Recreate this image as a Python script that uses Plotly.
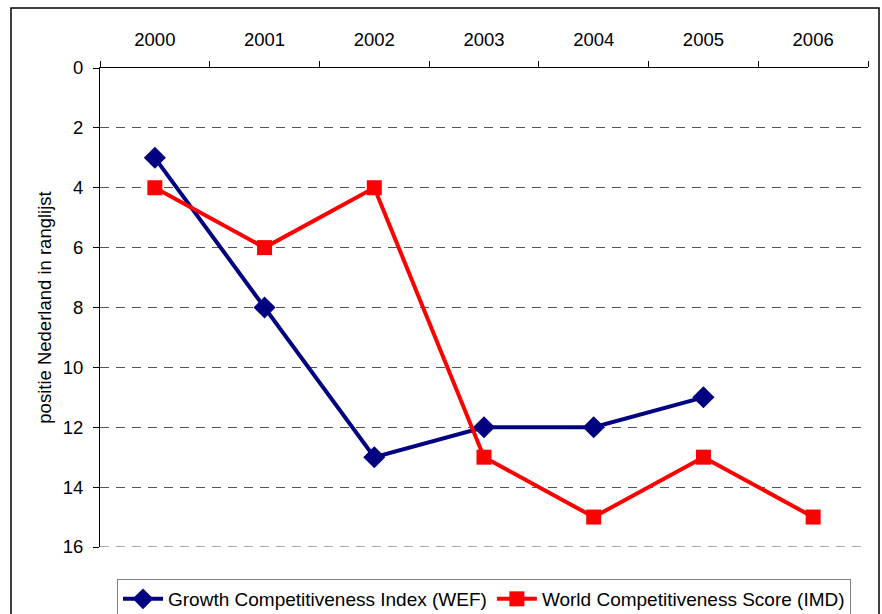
import plotly.graph_objects as go

years = ["2000", "2001", "2002", "2003", "2004", "2005", "2006"]
wef_rank = [3, 8, 13, 12, 12, 11, None]
imd_rank = [4, 6, 4, 13, 15, 13, 15]
y_ticks = [0, 2, 4, 6, 8, 10, 12, 14, 16]

FONT = "Liberation Sans, Arial, sans-serif"
GRID_COLOR = "#555555"
GRID_DASH = "9px,7px"

fig = go.Figure()
fig.add_trace(go.Scatter(
    x=years, y=wef_rank, name="Growth Competitiveness Index (WEF)",
    mode="lines+markers",
    line=dict(color="#000080", width=4),
    marker=dict(symbol="diamond", size=17, color="#000080"),
))
fig.add_trace(go.Scatter(
    x=years, y=imd_rank, name="World Competitiveness Score (IMD)",
    mode="lines+markers",
    line=dict(color="#FF0000", width=4),
    marker=dict(symbol="square", size=15, color="#FF0000"),
))

fig.update_layout(
    width=882, height=614,
    margin=dict(l=100, r=14, t=68, b=67, autoexpand=False),
    paper_bgcolor="white", plot_bgcolor="white",
    font=dict(family=FONT, size=18.5, color="black"),
    showlegend=True,
    legend=dict(
        orientation="h", x=0.5, xanchor="center",
        yref="container", y=(614 - 579) / 614, yanchor="top",
        bordercolor="#808080", borderwidth=1, font=dict(size=19),
        itemwidth=40,
    ),
    xaxis=dict(
        type="category", side="top", range=[-0.5, len(years) - 0.5],
        showline=True, linecolor="black", linewidth=1,
        ticks="outside", tickson="boundaries", ticklen=6, tickcolor="black",
        showgrid=False, zeroline=False, tickfont=dict(size=18.5),
        automargin=False, ticklabelstandoff=14,
    ),
    yaxis=dict(
        range=[y_ticks[-1], y_ticks[0]], tickvals=y_ticks,
        showline=True, linecolor="black", linewidth=1,
        ticks="outside", ticklen=6, tickcolor="black",
        showgrid=True, gridcolor=GRID_COLOR, gridwidth=1, griddash=GRID_DASH,
        zeroline=False, tickfont=dict(size=18.5),
        automargin=False, ticklabelstandoff=6,
        title=dict(text="positie Nederland in ranglijst", font=dict(size=18.5), standoff=6),
    ),
    shapes=[
        dict(
            type="rect", xref="paper", yref="paper",
            x0=(11 - 100) / 768, x1=(879 - 100) / 768,
            y0=(547 - 630) / 479, y1=(547 - 8) / 479,
            line=dict(color="black", width=1.5), fillcolor="rgba(0,0,0,0)", layer="below",
        ),
        # bottom gridline (at the last tick value), which plotly drops at the plot edge
        dict(
            type="line", xref="paper", yref="y",
            x0=0, x1=1, y0=y_ticks[-1], y1=y_ticks[-1],
            line=dict(color=GRID_COLOR, width=1, dash=GRID_DASH), layer="below",
        ),
    ],
)

fig.write_html(
    "out.html",
    config={"displayModeBar": False},
    post_script="document.body.style.margin='0px';document.body.style.overflow='hidden';",
)
